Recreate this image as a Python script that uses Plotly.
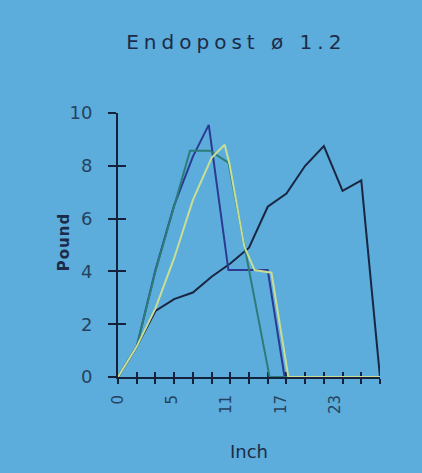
import plotly.graph_objects as go

# ---- data ----
dark_x = [0, 2, 4, 6, 8, 10, 12, 14, 16, 18, 20, 22, 24, 26, 28]
dark_y = [0, 1.15, 2.5, 2.95, 3.2, 3.8, 4.3, 4.9, 6.45, 6.95, 8.0, 8.75, 7.05, 7.45, 0]

blue_x = [0, 2, 4, 6, 8, 9.7, 11.8, 16.0, 17.8, 28]
blue_y = [0, 1.15, 4.05, 6.5, 8.35, 9.55, 4.05, 4.05, 0, 0]

teal_x = [0, 2, 4, 6, 7.7, 9.8, 11.8, 16.2, 28]
teal_y = [0, 1.15, 4.0, 6.45, 8.57, 8.57, 8.12, 0, 0]

yell_x = [0, 2, 4, 6, 8, 10, 11.4, 11.9, 13.5, 14.6, 16.4, 18.2, 28]
yell_y = [0, 1.15, 2.6, 4.5, 6.7, 8.3, 8.8, 8.1, 4.94, 4.05, 3.95, 0, 0]

x_tick_pos = [0, 5.8, 11.6, 17.4, 23.2]
x_tick_text = ["0", "5", "11", "17", "23"]
x_minor = list(range(0, 29, 2))
y_ticks = [0, 2, 4, 6, 8, 10]

BG = "#5caddb"
AX = "#16223b"
LBL = "#24425f"
TXT = "#1c2b48"
FONT = "DejaVu Sans"

fig = go.Figure()
fig.add_trace(go.Scatter(x=dark_x, y=dark_y, mode="lines", line=dict(color="#1a2542", width=2)))
fig.add_trace(go.Scatter(x=blue_x, y=blue_y, mode="lines", line=dict(color="#2b3a92", width=2)))
fig.add_trace(go.Scatter(x=teal_x, y=teal_y, mode="lines", line=dict(color="#2d7c78", width=2)))
fig.add_trace(go.Scatter(x=yell_x, y=yell_y, mode="lines", line=dict(color="#c8de94", width=2)))
# invisible trace to keep the overlay axes alive
fig.add_trace(go.Scatter(x=[0], y=[0], xaxis="x2", yaxis="y2", mode="markers",
                         marker=dict(opacity=0), hoverinfo="skip"))

fig.update_layout(
    width=422, height=473,
    paper_bgcolor=BG, plot_bgcolor=BG,
    showlegend=False,
    margin=dict(l=118, r=42, t=113, b=96, autoexpand=False),
    title=dict(text='<span style="letter-spacing:5px">Endopost ø 1.2</span>',
               x=0.56, xanchor="center", y=1 - 42 / 473, yanchor="middle",
               font=dict(family=FONT, size=20, color=TXT)),
    xaxis=dict(range=[0, 28], showgrid=False, zeroline=False, automargin=False,
               showline=True, linecolor=AX, linewidth=2,
               tickvals=x_tick_pos, ticktext=x_tick_text, tickangle=-90,
               ticks="", ticklabelstandoff=10,
               tickfont=dict(family=FONT, size=15, color=LBL),
               minor=dict(tickvals=x_minor, ticks="outside", ticklen=5, tickwidth=2, tickcolor=AX),
               layer="below traces",
               title=dict(text="Inch", font=dict(family=FONT, size=18, color=TXT), standoff=32)),
    xaxis2=dict(range=[0, 28], overlaying="x", anchor="y", side="bottom", automargin=False,
                showgrid=False, zeroline=False, showline=False,
                tickvals=x_minor, ticks="inside", ticklen=5, tickwidth=2, tickcolor=AX,
                showticklabels=False, layer="below traces"),
    yaxis=dict(range=[0, 10], showgrid=False, zeroline=False, automargin=False,
               showline=True, linecolor=AX, linewidth=2,
               tickvals=y_ticks, ticks="outside", ticklen=8, tickwidth=2, tickcolor=AX,
               ticklabelstandoff=12,
               tickfont=dict(family=FONT, size=18, color=LBL),
               layer="below traces"),
    yaxis2=dict(range=[0, 10], overlaying="y", anchor="x", side="left", automargin=False,
                showgrid=False, zeroline=False, showline=False,
                tickvals=y_ticks, ticks="inside", ticklen=8, tickwidth=2, tickcolor=AX,
                showticklabels=False, layer="below traces"),
    annotations=[dict(text='<b><span style="letter-spacing:1px">Pound</span></b>',
                      xref="paper", yref="paper", x=-0.203, y=0.51,
                      xanchor="center", yanchor="middle", textangle=-90, showarrow=False,
                      font=dict(family=FONT, size=15, color=TXT))],
)

fig.write_html("out.html", config={"displayModeBar": False},
               post_script="document.body.style.margin='0';document.body.style.overflow='hidden';")
